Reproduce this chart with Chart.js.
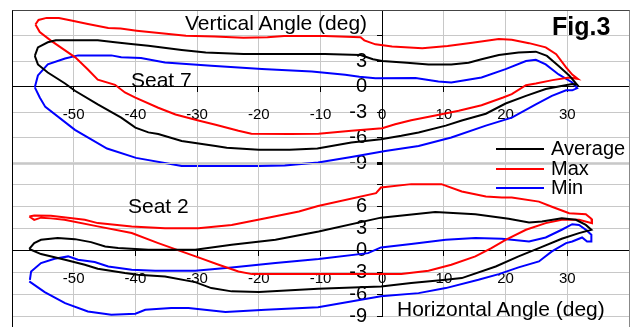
<!DOCTYPE html>
<html>
<head>
<meta charset="utf-8">
<script src="https://cdn.jsdelivr.net/npm/chart.js@4.4.1/dist/chart.umd.min.js"></script>
<style>
  html, body { margin: 0; padding: 0; background: #fff; }
  #page { position: relative; width: 639px; height: 327px; overflow: hidden; background: #fff;
          font-family: 'Liberation Sans', Arial, sans-serif; }
  .wrap { position: absolute; left: -40px; width: 720px; height: 260px; }
  #topWrap { top: -40px; }
  #botWrap { top: 123px; }
  .lbl { position: absolute; white-space: nowrap; color: #000; line-height: 1; }
  #frame { position: absolute; left: 12px; top: 10px; width: 616px; height: 330px;
           border-left: 1px solid #000; border-top: 1px solid #444; border-right: 1px solid #888; }
  .key { position: absolute; left: 496px; width: 48px; height: 2px; }
</style>
</head>
<body>
<div id="page">
  <div class="wrap" id="topWrap"><canvas id="seat7Chart" width="720" height="260"></canvas></div>
  <div class="wrap" id="botWrap"><canvas id="seat2Chart" width="720" height="260"></canvas></div>
  <div id="frame"></div>
  <div class="lbl" style="left:185px; top:12px; font-size:21px;">Vertical Angle (deg)</div>
  <div class="lbl" style="left:552px; top:14px; font-size:25px; font-weight:bold;">Fig.3</div>
  <div class="lbl" style="left:131px; top:69px; font-size:21px;">Seat 7</div>
  <div class="lbl" style="left:128px; top:195px; font-size:21px;">Seat 2</div>
  <div class="lbl" style="left:397px; top:298px; font-size:21px;">Horizontal Angle (deg)</div>
  <div id="legend"></div>
</div>
<script>
// axis ticks (deg)
const xTicks = [-60, -50, -40, -30, -20, -10, 0, 10, 20, 30, 40];
const seat7YTicks = [-9, -6, -3, 0, 3, 6, 9];
const seat2YTicks = [-9, -6, -3, 0, 3, 6, 9, 12];
const seriesNames = ['Average', 'Max', 'Min'];
const seriesColors = ['#000000', '#ff0000', '#0000ff'];

// Seat 7 loops [horizontal, vertical]
const seat7Average = [[-56.3,3.6],[-55.8,4.6],[-54.2,5.2],[-52.9,5.45],[-46.1,5.45],[-43.3,5.2],[-40.7,5.0],[-37.9,4.8],
  [-32.5,4.3],[-28.6,4.0],[-22.5,3.82],[-15.9,3.82],[-9.3,3.82],[-3.5,3.7],[-1.5,3.2],[0,3.0],[4,2.8],[7.5,2.6],
  [11.2,2.6],[14,2.8],[16.1,3.2],[18.9,3.7],[22.1,4.0],[24.9,4.1],[26.7,3.6],[28.6,2.4],[30.3,1.3],[31.6,0.2],
  [30.8,0.3],[28.6,0],[26.5,-0.3],[23.3,-1.1],[20,-2.0],[16.8,-3.2],[12.9,-4.0],[10.3,-4.6],[5.9,-5.4],[3.1,-5.8],
  [-0.2,-6.2],[-5,-6.6],[-10.5,-7.3],[-15,-7.45],[-20,-7.45],[-25.2,-7.2],[-27,-7.0],[-32.5,-6.4],[-36.3,-5.6],
  [-37.9,-5.4],[-40,-4.84],[-42.3,-3.66],[-46.1,-2.1],[-49.8,-0.5],[-51.4,0.35],[-54.2,1.65],[-55.8,2.6],[-56.3,3.6]];
const seat7Max = [[-56.2,7.3],[-55.7,7.83],[-54.4,8.07],[-52.4,8.07],[-50.4,7.76],[-47.7,7.36],[-44.4,6.89],[-42.4,6.81],
  [-39.8,6.57],[-35.8,6.26],[-31.8,5.98],[-27.2,5.87],[-22.5,5.75],[-18.6,5.79],[-15.9,5.94],[-9.3,5.94],[-3.5,5.8],
  [-2.9,5.43],[-1.1,4.96],[1.6,4.72],[6.5,4.5],[10.6,4.76],[14.6,5.16],[18.9,5.6],[21,5.5],[23.8,5.1],[26.5,4.6],
  [28.2,3.8],[29.8,2.25],[30.8,1.4],[31.7,0.9],[30.3,1.06],[27.6,0.75],[24.9,0.35],[23.3,0.15],[21,-0.9],[19.6,-1.3],
  [16.1,-2.2],[12.4,-2.85],[8.6,-3.4],[4.7,-3.96],[2.1,-4.45],[0,-4.9],[-5,-5.2],[-10.3,-5.55],[-15,-5.6],
  [-21.2,-5.55],[-23.3,-5.2],[-27,-4.5],[-29.8,-4.0],[-33.5,-3.3],[-36.3,-2.5],[-40,-1.3],[-41.7,-0.7],[-43.3,0.2],
  [-46.1,0.8],[-47.7,2.0],[-49.7,3.4],[-51.4,4.25],[-53.7,5.4],[-55.5,6.4],[-56.2,7.3]];
const seat7Min = [[-56.3,-0.1],[-55.8,1.3],[-54.2,2.6],[-51.4,3.3],[-49.3,3.66],[-43.9,3.66],[-42.3,3.43],[-39.1,3.35],
  [-35.2,2.83],[-27.7,2.44],[-19.5,2.05],[-11.4,1.77],[-6,1.38],[-3.7,1.14],[-1.1,0.97],[5.4,1.0],[9.1,0.6],[11.2,0.47],
  [16.1,1.06],[20,2.05],[23.3,3.0],[24.9,3.15],[26.5,2.6],[28.6,1.42],[30.8,0.47],[31.6,-0.2],[30.8,-0.45],[29.8,-0.45],
  [27.5,-1.1],[24.9,-2.1],[21,-3.66],[16.8,-4.6],[11.2,-6.0],[5.9,-7.0],[0.5,-7.6],[-5,-8.3],[-10.4,-8.95],[-15.8,-9.3],
  [-20,-9.35],[-32.5,-9.35],[-39.9,-8.4],[-44.6,-7.3],[-49.8,-5.1],[-54.6,-2.4],[-55.5,-1.3],[-56.3,-0.1]];

// Seat 2 loops
const seat2Average = [[-57.2,0.2],[-56.4,1.0],[-55.3,1.46],[-52.6,1.69],[-49.8,1.55],[-47.2,1.14],[-44.9,0.55],[-42.8,0.32],
  [-37.9,0.09],[-30.3,0.09],[-24.4,0.78],[-17.3,1.46],[-10.3,2.6],[-0.2,4.5],[8.6,5.26],[15.1,4.98],[20.5,4.35],
  [23.8,3.84],[25.9,3.98],[29.1,4.43],[31.4,4.2],[33.0,3.5],[33.9,2.84],[31.9,2.38],[29.1,1.6],[25.4,0.32],[22.1,-0.82],
  [18.4,-2.2],[12.9,-3.8],[10.3,-4.03],[4.7,-4.48],[-0.2,-4.94],[-10.4,-5.26],[-20,-5.72],[-24.4,-5.62],[-27.7,-5.17],
  [-30.3,-4.35],[-35.2,-3.57],[-39.6,-3.34],[-41.7,-3.11],[-46.1,-2.51],[-48.2,-1.96],[-51.4,-1.28],[-55.3,-0.5],[-57.2,0.2]];
const seat2Max = [[-57.2,4.66],[-56.4,4.8],[-53.7,4.75],[-48.2,4.2],[-46.1,3.75],[-40.6,3.3],[-35.2,3.06],[-29.8,3.06],
  [-24.4,3.5],[-18.9,4.43],[-13.5,5.35],[-10.4,6.1],[-1,7.86],[-0.2,8.64],[4.7,9.1],[9.6,9.1],[12.9,8.1],[16.8,7.4],
  [19.4,7.27],[21,7.27],[25.4,6.7],[27.5,6.0],[30.3,5.1],[33.0,4.98],[33.9,4.35],[34.0,3.75],[31.9,4.2],[29.1,4.2],
  [26.5,3.75],[23.3,2.84],[20,1.46],[17.7,0.32],[15.1,-0.82],[11.2,-1.96],[7.5,-2.79],[3.1,-3.25],[-0.2,-3.25],
  [-10.4,-3.25],[-21.1,-3.25],[-23.3,-2.88],[-26.5,-1.96],[-29.8,-0.96],[-33,0],[-36.3,1.0],[-40.6,2.38],[-46.1,3.3],
  [-51.5,4.2],[-53.7,4.4],[-55.3,4.5],[-56.4,4.2],[-57.2,4.66]];
const seat2Min = [[-57.1,-4.03],[-56.9,-2.88],[-55.3,-1.74],[-53.1,-1.14],[-50.9,-0.82],[-49.3,-1.28],[-46.6,-1.6],
  [-44.4,-2.2],[-40.6,-2.65],[-36.8,-2.79],[-30.3,-2.79],[-24.4,-2.33],[-17.3,-1.74],[-10.3,-1.19],[-2.3,-0.37],
  [-0.2,0.41],[4.7,0.87],[10.3,1.46],[15.1,1.69],[19.4,1.6],[23.8,1.23],[26.5,1.78],[29.1,2.84],[30.8,3.6],[31.9,3.5],
  [33.0,2.84],[33.9,2.15],[33.9,1.23],[33.2,1.23],[32.4,1.78],[30.8,1.23],[29.8,1.0],[27.5,-0.14],[25.4,-1.51],
  [22.1,-2.33],[18.9,-3.25],[15.6,-4.03],[10.3,-5.17],[5.9,-5.86],[-0.2,-6.3],[-10.4,-7.8],[-18.9,-8.14],[-25.4,-8.46],
  [-31.4,-7.9],[-34.2,-7.9],[-38.4,-8.14],[-40,-8.69],[-43.9,-8.82],[-47.7,-8.37],[-51.4,-7.23],[-54.7,-5.72],[-57.2,-4.25]];

const fontFamily = "'Liberation Sans', Arial, sans-serif";

function makeDatasets(loops) {
    return loops.map(function (pts, i) {
        return {
            label: seriesNames[i],
            data: pts.map(p => ({ x: p[0], y: p[1] })),
            showLine: true,
            borderColor: seriesColors[i],
            backgroundColor: seriesColors[i],
            borderWidth: 2,
            pointRadius: 0,
            tension: 0,
            clip: false
        };
    });
}

function makeOptions(yTicks, yLabelMax, padTop, padBottom, thickBottom) {
    const yMin = yTicks[0], yMax = yTicks[yTicks.length - 1];
    return {
        responsive: false,
        animation: false,
        layout: { padding: { left: 52, right: 51, top: padTop, bottom: padBottom } },
        plugins: { legend: { display: false }, tooltip: { enabled: false } },
        scales: {
            x: {
                type: 'linear', min: xTicks[0], max: xTicks[xTicks.length - 1],
                position: { y: 0 },
                afterBuildTicks: axis => { axis.ticks = xTicks.map(v => ({ value: v })); },
                ticks: {
                    color: '#000', font: { family: fontFamily, size: 15 }, padding: 14,
                    maxRotation: 0, autoSkip: false,
                    callback: v => (v === xTicks[0] || v === xTicks[xTicks.length - 1]) ? '' : v
                },
                grid: { color: '#c8c8c8', tickColor: '#000', tickLength: 5 },
                border: { color: '#000', width: 1 }
            },
            y: {
                type: 'linear', min: yMin, max: yMax,
                position: { x: 0 },
                afterBuildTicks: axis => { axis.ticks = yTicks.map(v => ({ value: v })); },
                ticks: {
                    color: '#000', font: { family: fontFamily, size: 20 },
                    autoSkip: false,
                    // labels sit on the axis line when it is placed at x = 0, so pad them with spaces
                    callback: v => v > yLabelMax ? '' : v + '  \u2009'
                },
                grid: {
                    color: c => (thickBottom && c.tick && c.tick.value === yMin) ? '#d4d4d4' : '#c8c8c8',
                    lineWidth: c => (thickBottom && c.tick && c.tick.value === yMin) ? 3 : 1,
                    tickColor: '#000', tickLength: 5
                },
                border: { color: '#000', width: 1 }
            }
        }
    };
}

new Chart(document.getElementById('seat7Chart').getContext('2d'), {
    type: 'scatter',
    data: { datasets: makeDatasets([seat7Average, seat7Max, seat7Min]) },
    options: makeOptions(seat7YTicks, 3, 50, 57, true)
});

new Chart(document.getElementById('seat2Chart').getContext('2d'), {
    type: 'scatter',
    data: { datasets: makeDatasets([seat2Average, seat2Max, seat2Min]) },
    options: makeOptions(seat2YTicks, 6, 40, 67, false)
});

// legend (shared by both panels)
const legendRows = [149, 169, 188];
let html = '';
seriesNames.forEach(function (name, i) {
    html += '<div class="key" style="top:' + (legendRows[i] - 1) + 'px; background:' + seriesColors[i] + ';"></div>';
    html += '<div class="lbl" style="left:551px; top:' + (legendRows[i] - 11) + 'px; font-size:20px;">' + name + '</div>';
});
document.getElementById('legend').innerHTML = html;
</script>
</body>
</html>
